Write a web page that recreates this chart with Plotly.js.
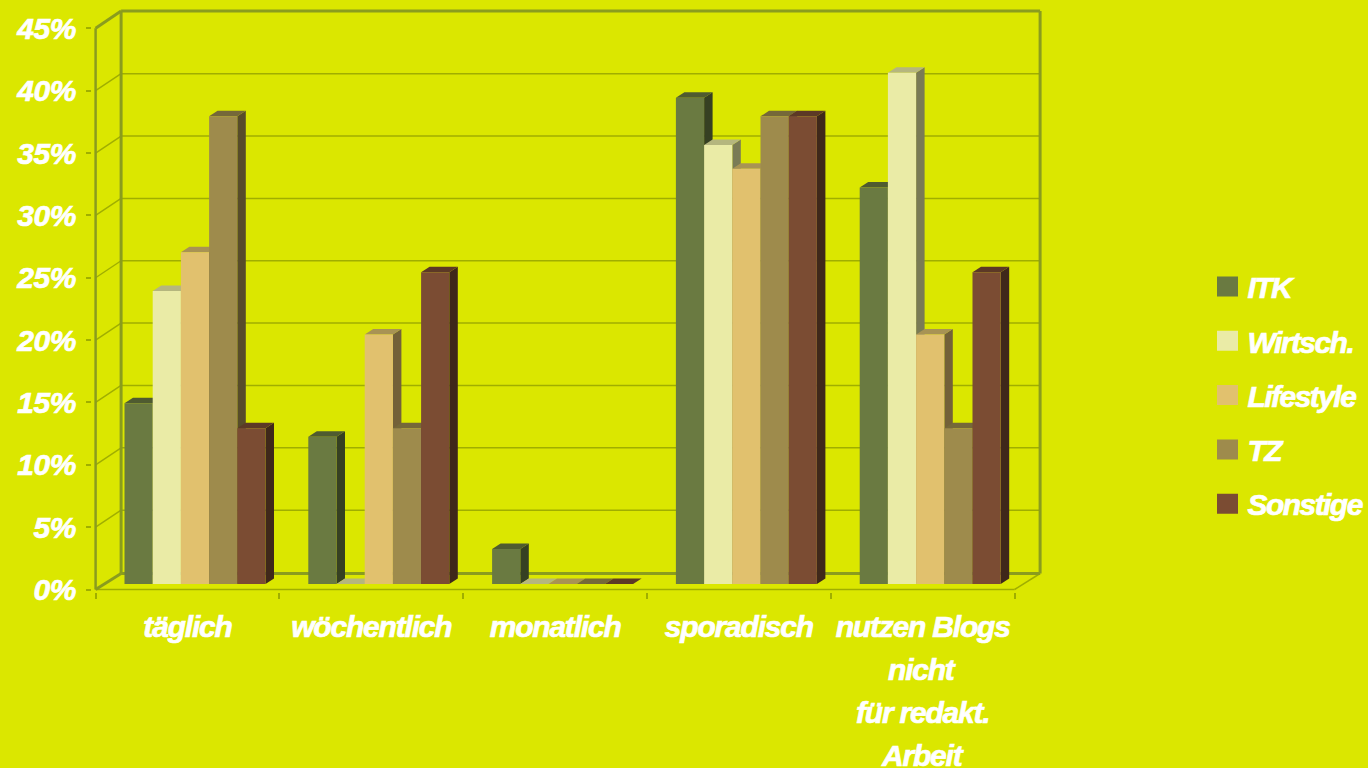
<!DOCTYPE html>
<html><head><meta charset="utf-8">
<script src="https://cdn.plot.ly/plotly-3.0.1.min.js"></script>
<style>
html,body{margin:0;padding:0;background:#DBE700;overflow:hidden}
.xtick text,.annotation-text{letter-spacing:-1.2px;stroke:#fff;stroke-width:.7px}
.ytick text{letter-spacing:-.4px;stroke:#fff;stroke-width:.7px}
.legendtext{letter-spacing:-1.55px;stroke:#fff;stroke-width:.7px}
.legendpoints path{transform:translate(20px,0) scale(1.75,1.67)}
</style></head><body>
<div id="chart" style="width:1368px;height:768px"></div>
<script>
const categories=["täglich","wöchentlich","monatlich","sporadisch","nutzen Blogs nicht für redakt. Arbeit"];
const tickLabels=["täglich","wöchentlich","monatlich","sporadisch","nutzen Blogs"];
const extraLabelLines=["nicht","für redakt.","Arbeit"];
const seriesNames=["ITK","Wirtsch.","Lifestyle","TZ","Sonstige"];
const itk=[14.5,11.8,2.8,39,31.8];
const wirtsch=[23.5,0,0,35.2,41];
const lifestyle=[26.6,20,0,33.3,20];
const tz=[37.5,12.5,0,37.5,12.5];
const sonstige=[12.5,25,0,37.5,25];
const frontColors=["#6A7A41","#EAEBA6","#E1C16E","#9E8B4C","#7B4C33"];
const topColors=["#4F5B30","#B5B67E","#A89354","#756839","#5C3926"];
const sideColors=["#364022","#7A7B55","#736138","#574C2A","#3F281A"];
const yTicks=[0,5,10,15,20,25,30,35,40,45];
const series=[itk,wirtsch,lifestyle,tz,sonstige];

const BG="#DBE700",THIN="#A0AE00",THICK="#8A9C1E";
const pxCat=183.8,pxPct=12.47,cat0Px=187.5,zeroPx=589.5;
const L=92,R=1043,T=8,B=592;
const wallX=25.5/pxCat,floorY=16/pxPct,gridY=17/pxPct,topY=17.3/pxPct; // depth of the chart box
const frontX=7.5/pxCat,frontY=5.5/pxPct;       // where bar fronts stand
const sideX=8.5/pxCat,sideY=5.5/pxPct;         // depth of a bar
const barW=28.2/pxCat;

const line=(x0,y0,x1,y1,c,w)=>({type:"line",xref:"x",yref:"y",layer:"below",x0,y0,x1,y1,line:{color:c,width:w}});
const poly=(pts,c)=>({type:"path",xref:"x",yref:"y",layer:"below",
  path:"M"+pts.map(p=>p[0]+","+p[1]).join("L")+"Z",fillcolor:c,line:{width:0}});

const xa=-0.5,xb=4.5,yMax=45;
let shapes=[];
yTicks.forEach(v=>{ if(v===0||v===yMax) return;
  shapes.push(line(xa,v,xa+wallX,v+gridY,THIN,1.5));
  shapes.push(line(xa+wallX,v+gridY,xb+wallX,v+gridY,THIN,1.5));
});
shapes.push(line(xa,0,xb,0,THIN,1.5));
shapes.push(line(xb,0,xb+wallX,floorY,THIN,1.5));
shapes.push(line(xa,0,xa,yMax,THICK,2.5));
shapes.push(line(xa,0,xa+wallX,floorY,THICK,3));
shapes.push(line(xa,yMax,xa+wallX,yMax+topY,THICK,3));
shapes.push(line(xa+wallX,floorY,xa+wallX,yMax+topY,THICK,3));
shapes.push(line(xa+wallX,yMax+topY,xb+wallX,yMax+topY,THICK,3));
shapes.push(line(xb+wallX,floorY,xb+wallX,yMax+topY,THICK,3));
shapes.push(line(xa+wallX,floorY,xb+wallX,floorY,THICK,3));

const offsetOf=k=>frontX+(k-2.5)*barW;
categories.forEach((c,i)=>{
  series.forEach((vals,k)=>{
    const x0=i+offsetOf(k),x1=x0+barW,b=frontY,t=frontY+vals[i];
    if(vals[i]>0) shapes.push(poly([[x1,b],[x1+sideX,b+sideY],[x1+sideX,t+sideY],[x1,t]],sideColors[k]));
    shapes.push(poly([[x0,t],[x1,t],[x1+sideX,t+sideY],[x0+sideX,t+sideY]],topColors[k]));
  });
});

const traces=series.map((vals,k)=>({
  type:"bar",name:seriesNames[k],legendgroup:seriesNames[k],x:categories,y:vals,
  base:categories.map(()=>frontY),width:barW,offset:offsetOf(k),
  marker:{color:frontColors[k],line:{width:0}},
  hovertemplate:"%{x}<br>"+seriesNames[k]+": %{y}%<extra></extra>"
}));

const font={family:'"Liberation Sans",Arial,sans-serif',size:30,color:"#fff",weight:700,style:"italic"};
const annotations=extraLabelLines.map((t,i)=>({
  text:t,x:4,xref:"x",y:0,yref:"y",yanchor:"middle",xanchor:"center",showarrow:false,
  yshift:-(669+i*43-zeroPx),font:font
}));

const layout={
  width:1368,height:768,autosize:false,showlegend:true,
  paper_bgcolor:BG,plot_bgcolor:BG,barmode:"overlay",
  margin:{l:L,r:1368-R,t:T,b:768-B,pad:0,autoexpand:false},
  xaxis:{type:"category",categoryorder:"array",categoryarray:categories,
    range:[(L-cat0Px)/pxCat,(R-cat0Px)/pxCat],fixedrange:true,
    tickson:"boundaries",tickmode:"array",tickvals:categories,ticktext:tickLabels,tickangle:0,
    ticks:"outside",ticklen:6,tickwidth:1.5,tickcolor:THIN,
    showgrid:false,zeroline:false,showline:false,tickfont:font,ticklabelstandoff:14},
  yaxis:{range:[(zeroPx-B)/pxPct,(zeroPx-T)/pxPct],fixedrange:true,
    tickmode:"array",tickvals:yTicks,ticktext:yTicks.map(v=>v+"%"),
    ticks:"outside",ticklen:5,tickwidth:1.5,tickcolor:THIN,
    showgrid:false,zeroline:false,showline:false,tickfont:font,ticklabelstandoff:4},
  legend:{x:(1207.5-L)/(R-L),xanchor:"left",y:(B-260.5)/(B-T),yanchor:"top",
    bgcolor:"rgba(0,0,0,0)",borderwidth:0,font:font,itemwidth:30,
    tracegroupgap:12.3,traceorder:"grouped",itemclick:false,itemdoubleclick:false},
  shapes,annotations
};
Plotly.newPlot("chart",traces,layout,{displayModeBar:false});
</script>
</body></html>
